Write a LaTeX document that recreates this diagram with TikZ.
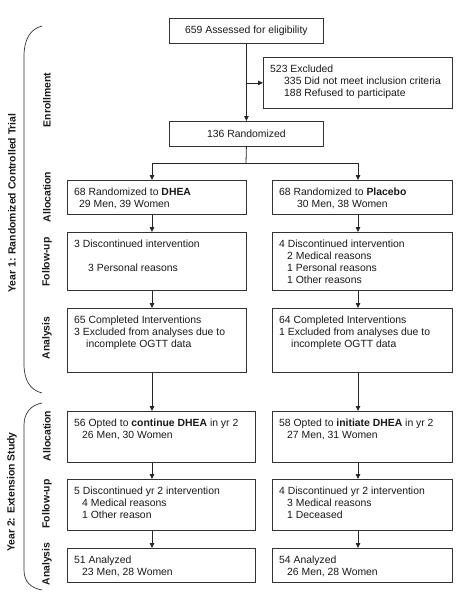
\documentclass[tikz,border=0pt]{standalone}
\usepackage{fontspec}
\setmainfont{Liberation Sans}
\usetikzlibrary{arrows.meta}
\newcommand\mkbox[5]{%
  \pgfmathsetmacro\bw{#4-#2}\pgfmathsetmacro\bh{#5-#3}%
  \node[box,anchor=north west,minimum width=\bw pt,minimum height=\bh pt] (#1) at (#2,#3) {};}
\newcommand\mktext[2]{%
  \node[txt,anchor=north west] (#1t) at ([xshift=7pt,yshift=-7.5pt]#1.north west) {#2};}
\newcommand\ind[1]{\hspace*{#1pt}}
\begin{document}
\begin{tikzpicture}[x=1pt,y=-1pt,
  box/.style={draw=black!80,line width=0.8pt,inner sep=0pt,fill=white},
  txt/.style={font=\fontsize{10.4}{12}\selectfont,align=left,inner sep=0pt,text=black!90},
  ctxt/.style={font=\fontsize{10.4}{12}\selectfont,text=black!90},
  phase/.style={font=\bfseries\fontsize{10.4}{12}\selectfont,rotate=90,inner sep=0pt,text=black!90},
  conn/.style={draw=black!85,line width=0.8pt},
  arr/.style={conn,-{Triangle[length=5pt,width=4.5pt]}},
  brk/.style={draw=black!80,line width=0.7pt}]
\useasboundingbox (0,0) rectangle (475,597);
\coordinate (colL) at (152,0);
\coordinate (colR) at (358,0);

% top boxes
\mkbox{assess}{169}{18}{323}{43}
\node[ctxt] (assesst) at (assess.center) {659 Assessed for eligibility};
\mkbox{excl}{263}{57}{452}{108}
\mktext{excl}{523 Excluded\\\ind{14}335 Did not meet inclusion criteria\\\ind{14}188 Refused to participate}
\mkbox{rand}{169}{121}{323}{146}
\node[ctxt] (randt) at (rand.center) {136 Randomized};

% year 1
\mkbox{dA1}{67}{180}{246}{214}
\mktext{dA1}{68 Randomized to \textbf{DHEA}\\\ind{5}29 Men, 39 Women}
\mkbox{pA1}{272}{180}{452}{214}
\mktext{pA1}{68 Randomized to \textbf{Placebo}\\\ind{18}30 Men, 38 Women}
\mkbox{dF1}{67}{232}{246}{290}
\mktext{dF1}{3 Discontinued intervention\\[12pt]\ind{14}3 Personal reasons}
\mkbox{pF1}{272}{232}{452}{290}
\mktext{pF1}{4 Discontinued intervention\\\ind{8}2 Medical reasons\\\ind{8}1 Personal reasons\\\ind{8}1 Other reasons}
\mkbox{dN1}{67}{308}{246}{372}
\mktext{dN1}{65 Completed Interventions\\3 Excluded from analyses due to\\\ind{12}incomplete OGTT data}
\mkbox{pN1}{272}{308}{452}{372}
\mktext{pN1}{64 Completed Interventions\\1 Excluded from analyses due to\\\ind{12}incomplete OGTT data}

% year 2
\mkbox{dA2}{67}{411}{255}{462}
\mktext{dA2}{56 Opted to \textbf{continue DHEA} in yr 2\\\ind{8}26 Men, 30 Women}
\mkbox{pA2}{272}{411}{452}{462}
\mktext{pA2}{58 Opted to \textbf{initiate DHEA} in yr 2\\\ind{8}27 Men, 31 Women}
\mkbox{dF2}{67}{479}{255}{530}
\mktext{dF2}{5 Discontinued yr 2 intervention\\\ind{8}4 Medical reasons\\\ind{8}1 Other reason}
\mkbox{pF2}{272}{479}{452}{530}
\mktext{pF2}{4 Discontinued yr 2 intervention\\\ind{8}3 Medical reasons\\\ind{8}1 Deceased}
\mkbox{dN2}{67}{548}{255}{582}
\mktext{dN2}{51 Analyzed\\\ind{8}23 Men, 28 Women}
\mkbox{pN2}{272}{548}{452}{582}
\mktext{pN2}{54 Analyzed\\\ind{8}26 Men, 28 Women}

% connectors
\draw[arr] (assess.south) -- (rand.north);
\coordinate (exclj) at (assess.south |- excl.west);
\draw[arr] (exclj) -- (excl.west);
\coordinate (split) at (246,163);
\draw[conn] (rand.south) -- (split);
\draw[arr] (split) -| (dA1.north -| colL);
\draw[arr] (split) -| (pA1.north -| colR);
\draw[arr] (dA1.south -| colL) -- (dF1.north -| colL);
\draw[arr] (dF1.south -| colL) -- (dN1.north -| colL);
\draw[arr] (dN1.south -| colL) -- (dA2.north -| colL);
\draw[arr] (dA2.south -| colL) -- (dF2.north -| colL);
\draw[arr] (dF2.south -| colL) -- (dN2.north -| colL);
\draw[arr] (pA1.south -| colR) -- (pF1.north -| colR);
\draw[arr] (pF1.south -| colR) -- (pN1.north -| colR);
\draw[arr] (pN1.south -| colR) -- (pA2.north -| colR);
\draw[arr] (pA2.south -| colR) -- (pF2.north -| colR);
\draw[arr] (pF2.south -| colR) -- (pN2.north -| colR);

% phase labels
\node[phase] (lEnr) at (47,100) {Enrollment};
\node[phase] (lA1) at (47,197) {Allocation};
\node[phase] (lF1) at (47,262) {Follow-up};
\node[phase] (lN1) at (47,338) {Analysis};
\node[phase] (lA2) at (47,436) {Allocation};
\node[phase] (lF2) at (47,504) {Follow-up};
\node[phase] (lN2) at (47,564) {Analysis};
\node[phase] (lY1) at (12,203) {Year 1: Randomized Controlled Trial};
\node[phase] (lY2) at (12,492) {Year 2: Extension Study};

% brackets
\draw[brk] (42,26) .. controls (30,29) and (24,40) .. (24,56) -- (24,364) .. controls (24,380) and (30,390) .. (42,393);
\draw[brk] (42,403) .. controls (31,405) and (24,413) .. (24,425) -- (24,570) .. controls (24,582) and (31,588) .. (42,590);
\end{tikzpicture}
\end{document}
